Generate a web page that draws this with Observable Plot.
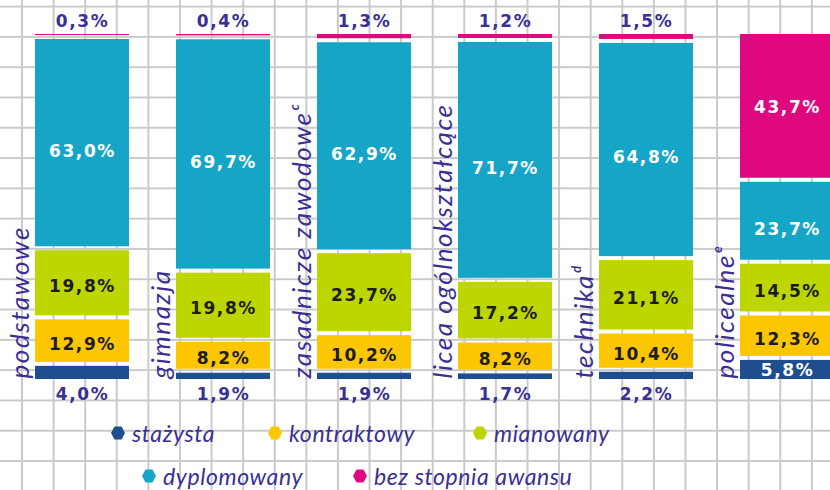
<!DOCTYPE html>
<html>
<head>
<meta charset="utf-8">
<script src="https://cdn.jsdelivr.net/npm/d3@7"></script>
<script src="https://cdn.jsdelivr.net/npm/@observablehq/plot@0.6"></script>
<style>
  html, body { margin: 0; padding: 0; background: #fff; }
  #wrap {
    position: relative; width: 830px; height: 490px; overflow: hidden;
    background-color: #fff;
    background-image:
      linear-gradient(to right, #cacaca 0, #cacaca 2px, transparent 2px),
      linear-gradient(to bottom, #cacaca 0, #cacaca 2px, transparent 2px);
    background-size: 31.6px 30.3px, 31.6px 30.3px;
    background-position: 21px 0, 0 5.6px;
  }
  #chart svg { letter-spacing: 1.6px; }
  #legend { position: relative; height: 75px; }
  .item { position: absolute; display: flex; align-items: center; transform: translateY(-50%);
          font-family: Lato, "DejaVu Sans", sans-serif; font-style: italic; font-size: 23px;
          line-height: 1.05; letter-spacing: 0.6px; color: #3b2f95; white-space: nowrap; }
  .item svg { margin-right: 7px; }
</style>
</head>
<body>
<div id="wrap">
  <div id="chart"></div>
  <div id="legend"></div>
</div>
<script>
const categories = ["podstawowe", "gimnazja", "zasadnicze zawodoweᶜ", "licea ogólnokształcące", "technikaᵈ", "policealneᵉ"];
const series = ["stażysta", "kontraktowy", "mianowany", "dyplomowany", "bez stopnia awansu"];
const colors = ["#1f4e8f", "#fcc600", "#bed600", "#15a6c7", "#e0087f"];

const stazysta    = [4.0, 1.9, 1.9, 1.7, 2.2, 5.8];
const kontraktowy = [12.9, 8.2, 10.2, 8.2, 10.4, 12.3];
const mianowany   = [19.8, 19.8, 23.7, 17.2, 21.1, 14.5];
const dyplomowany = [63.0, 69.7, 62.9, 71.7, 64.8, 23.7];
const bezStopnia  = [0.3, 0.4, 1.3, 1.2, 1.5, 43.7];

const values = [stazysta, kontraktowy, mianowany, dyplomowany, bezStopnia];

// layout
const H = 415, mTop = 34, mBottom = 36;
const plotH = H - mTop - mBottom;
const gapPx = 4;
const k = (plotH - 4 * gapPx) / 100;
const g = gapPx / k;
const total = 100 + 4 * g;

const rows = [];
categories.forEach((cat, i) => {
  let cur = 0;
  series.forEach((s, j) => {
    const v = values[j][i];
    rows.push({cat, series: s, j, v, y1: cur, y2: cur + v});
    cur += v + g;
  });
});

const fmt = v => v.toFixed(1).replace(".", ",") + "%";
const inside = d => d.v >= 5;
const darkText = d => d.j === 1 || d.j === 2;
const numFont = {fontFamily: "DejaVu Sans, sans-serif", fontWeight: "bold", fontSize: 17};

const chart = Plot.plot({
  width: 830, height: H,
  marginTop: mTop, marginBottom: mBottom, marginLeft: 0, marginRight: 0,
  style: {background: "transparent", overflow: "hidden"},
  x: {domain: categories, range: [35, 837.3], paddingInner: 0.33, paddingOuter: 0, align: 0, axis: null},
  y: {domain: [0, total], axis: null},
  color: {domain: series, range: colors},
  marks: [
    Plot.barY(rows, {x: "cat", y1: "y1", y2: "y2", fill: "series"}),
    Plot.text(rows.filter(d => inside(d) && darkText(d)), {
      x: "cat", y: d => (d.y1 + d.y2) / 2, text: d => fmt(d.v), fill: "#1c1c1c", dy: 3, ...numFont
    }),
    Plot.text(rows.filter(d => inside(d) && !darkText(d) && d.j === 3), {
      x: "cat", y: d => (d.y1 + d.y2) / 2, text: d => fmt(d.v), fill: "white", dy: 8, ...numFont
    }),
    Plot.text(rows.filter(d => inside(d) && !darkText(d) && d.j !== 3), {
      x: "cat", y: d => (d.y1 + d.y2) / 2, text: d => fmt(d.v), fill: "white", dy: 1, ...numFont
    }),
    Plot.text(rows.filter(d => !inside(d) && d.j === 0), {
      x: "cat", y: "y1", text: d => fmt(d.v), fill: "#3b2f95", dy: 15, ...numFont
    }),
    Plot.text(rows.filter(d => !inside(d) && d.j === 4), {
      x: "cat", y: "y2", text: d => fmt(d.v), fill: "#3b2f95", dy: -13, ...numFont
    }),
    Plot.text(categories, {
      x: d => d, y: 0, text: d => d, rotate: -90, textAnchor: "start", lineAnchor: "middle",
      dx: -62, dy: -1, fill: "#3b2f95", fontFamily: "Lato, DejaVu Sans, sans-serif",
      fontStyle: "italic", fontSize: 26
    })
  ]
});
document.getElementById("chart").appendChild(chart);

// legend
const legendPos = [[118, 18], [275, 18], [480, 18], [149, 61], [360, 61]];
const legend = document.getElementById("legend");
series.forEach((s, j) => {
  const el = document.createElement("div");
  el.className = "item";
  el.style.left = (legendPos[j][0] - 7) + "px";
  el.style.top = legendPos[j][1] + "px";
  el.innerHTML = `<svg width="14" height="14" viewBox="0 0 14 14"><polygon points="3.5,0.5 10.5,0.5 14,7 10.5,13.5 3.5,13.5 0,7" fill="${colors[j]}"/></svg>`;
  const t = document.createElement("span");
  t.textContent = s;
  el.appendChild(t);
  legend.appendChild(el);
});
</script>
</body>
</html>
